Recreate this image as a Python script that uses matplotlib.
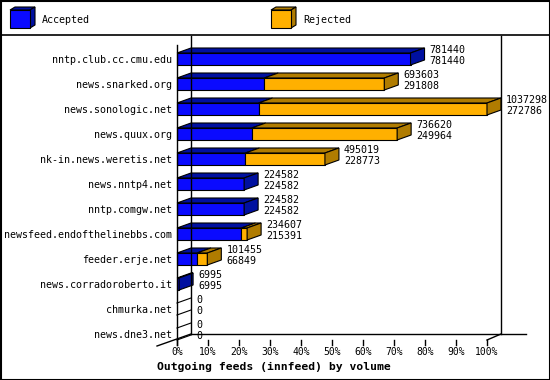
import matplotlib
matplotlib.use("Agg")
import matplotlib.pyplot as plt
from matplotlib.patches import Polygon, Rectangle

hosts = ['nntp.club.cc.cmu.edu', 'news.snarked.org', 'news.sonologic.net',
         'news.quux.org', 'nk-in.news.weretis.net', 'news.nntp4.net',
         'nntp.comgw.net', 'newsfeed.endofthelinebbs.com', 'feeder.erje.net',
         'news.corradoroberto.it', 'chmurka.net', 'news.dne3.net']
offered = [781440, 693603, 1037298, 736620, 495019, 224582, 224582,
           234607, 101455, 6995, 0, 0]
accepted = [781440, 291808, 272786, 249964, 228773, 224582, 224582,
            215391, 66849, 6995, 0, 0]
ticks = [0, 10, 20, 30, 40, 50, 60, 70, 80, 90, 100]

BLUE, BLUE_D = '#0a0aff', '#0010a0'
ORANGE, ORANGE_D = '#ffb000', '#b07c00'
MONO = 'DejaVu Sans Mono'

fig = plt.figure(figsize=(5.5, 3.8), dpi=100)

# overlay in pixel units for frame / legend / title
deco = fig.add_axes([0, 0, 1, 1])
deco.set_xlim(0, 550)
deco.set_ylim(380, 0)
deco.axis('off')
deco.add_patch(Rectangle((0.5, 0.5), 549, 379, fill=False, lw=1.5, ec='black'))
deco.plot([0, 550], [35, 35], color='black', lw=1.2)


def cube(x, y, fc, sc):
    deco.add_patch(Polygon([(x, y), (x + 5, y - 3), (x + 25, y - 3), (x + 20, y)],
                           fc=sc, ec='black', lw=0.8))
    deco.add_patch(Polygon([(x + 20, y), (x + 25, y - 3), (x + 25, y + 15), (x + 20, y + 18)],
                           fc=sc, ec='black', lw=0.8))
    deco.add_patch(Rectangle((x, y), 20, 18, fc=fc, ec='black', lw=0.8))


cube(10, 10, BLUE, BLUE_D)
deco.text(42, 20, 'Accepted', family=MONO, fontsize=7.2, va='center')
cube(271, 10, ORANGE, ORANGE_D)
deco.text(303, 20, 'Rejected', family=MONO, fontsize=7.2, va='center')
deco.text(274, 367, 'Outgoing feeds (innfeed) by volume', family=MONO,
          fontsize=8.2, fontweight='bold', ha='center', va='center')

# chart axes: x in percent, y in rows
ax = fig.add_axes([177 / 550, 40 / 380, 310 / 550, 300 / 380])
PXX, PXY = 3.1, 25.0
ax.set_xlim(0, 100)
ax.set_ylim(11.24, -0.76)
ax.axis('off')

DX, DY = 14 / PXX, 5 / PXY      # bar depth
FDX, FDY = 14 / PXX, 6 / PXY    # floor depth
H = 6 / PXY
floor = 11.24
kw = dict(clip_on=False)

# walls
ax.plot([FDX, FDX], [-0.76 - 4 / PXY, floor - FDY], color='black', lw=1, **kw)
ax.plot([100 + FDX, 100 + FDX], [-0.76 - 4 / PXY, floor - FDY], color='black', lw=1, **kw)
ax.plot([FDX, 112.6], [floor - FDY, floor - FDY], color='black', lw=1, **kw)
ax.plot([-6.45, FDX], [floor + 6 / PXY, floor - FDY], color='black', lw=1, **kw)
ax.plot([100, 100 + FDX], [floor, floor - FDY], color='black', lw=1, **kw)
ax.plot([0, 0], [-0.56, floor + 5 / PXY], color='black', lw=1, **kw)
for t in ticks:
    ax.plot([t, t], [floor, floor + 5 / PXY], color='black', lw=1, **kw)
    ax.text(t, floor + 12 / PXY, '%d%%' % t, family=MONO, fontsize=7,
            ha='center', va='center', **kw)

vmax = max(offered)
for i, (h, o, a) in enumerate(zip(hosts, offered, accepted)):
    ax.text(-5 / PXX, i + 1 / PXY, h, family=MONO, fontsize=7.2,
            ha='right', va='center', **kw)
    top, bot = i - H, i + H
    pa = a / vmax * 100
    po = o / vmax * 100
    segs = [(0, pa, BLUE, BLUE_D)]
    if po > pa:
        segs.append((pa, po, ORANGE, ORANGE_D))
    if po == 0:
        ax.plot([0, DX], [top, top - DY], color='black', lw=0.8, **kw)
        ax.plot([0, DX], [bot, bot - DY], color='black', lw=0.8, **kw)
    else:
        for x0, x1, fc, sc in segs:
            ax.add_patch(Polygon([(x0, top), (x0 + DX, top - DY), (x1 + DX, top - DY), (x1, top)],
                                 fc=sc, ec='black', lw=0.8, **kw))
            ax.add_patch(Rectangle((x0, top), x1 - x0, 2 * H, fc=fc, ec='black', lw=0.8, **kw))
        x1, sc = segs[-1][1], segs[-1][3]
        ax.add_patch(Polygon([(x1, top), (x1 + DX, top - DY), (x1 + DX, bot - DY), (x1, bot)],
                             fc=sc, ec='black', lw=0.8, **kw))
    xt = po + DX + 5 / PXX
    ax.text(xt, i - 9 / PXY, str(o), family=MONO, fontsize=7.2, va='center', **kw)
    ax.text(xt, i + 2 / PXY, str(a), family=MONO, fontsize=7.2, va='center', **kw)

fig.savefig('out.png', dpi=100)
